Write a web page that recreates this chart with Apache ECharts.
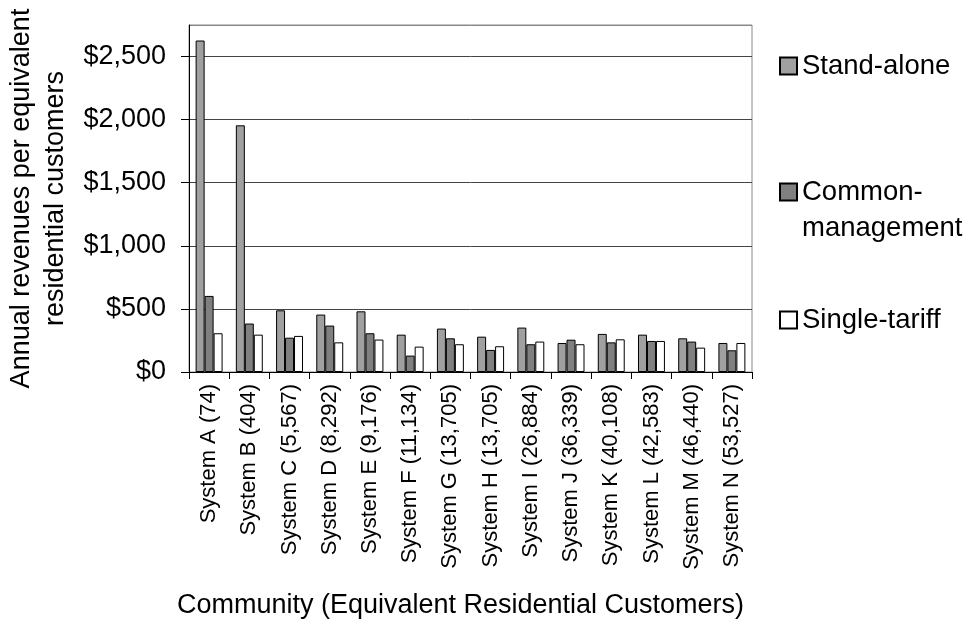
<!DOCTYPE html>
<html>
<head>
<meta charset="utf-8">
<script src="https://cdn.jsdelivr.net/npm/echarts@6/dist/echarts.min.js"></script>
<style>html,body{margin:0;padding:0;background:#fff;}#c{width:968px;height:625px;}</style>
</head>
<body>
<div id="c"></div>
<script>
const categories = ['System A (74)','System B (404)','System C (5,567)','System D (8,292)','System E (9,176)','System F (11,134)','System G (13,705)','System H (13,705)','System I (26,884)','System J (36,339)','System K (40,108)','System L (42,583)','System M (46,440)','System N (53,527)'];
const standAlone = [2627,1955,489,455,481,296,344,280,352,230,302,296,267,230];
const commonManagement = [603,384,272,368,307,130,267,175,220,256,235,246,241,172];
const singleTariff = [307,296,286,235,257,201,220,204,241,220,259,246,193,230];
const yTicks = {min:0, max:2750, interval:500};

const FONT = '"Liberation Sans", Arial, sans-serif';
const chart = echarts.init(document.getElementById('c'));
const barBase = {type:'bar', barGap:'0%', barCategoryGap:'33%', animation:false};
const legendText = {fontFamily:FONT, fontSize:27.5, color:'#000', lineHeight:36};
const legendBase = {orient:'vertical', left:779, padding:0, icon:'rect', itemWidth:17, itemHeight:17, itemGap:0,
  textStyle:legendText, selectedMode:false};
chart.setOption({
  animation:false,
  grid:{left:189, right:216, top:25, bottom:253, outerBoundsMode:'none', containLabel:false,
    show:true, borderColor:'#888', borderWidth:1},
  legend:[
    Object.assign({}, legendBase, {top:48, data:['Stand-alone']}),
    Object.assign({}, legendBase, {top:138, data:['Common-management'],
      formatter:()=> '\nCommon-\nmanagement'}),
    Object.assign({}, legendBase, {top:302, data:['Single-tariff']})
  ],
  xAxis:{type:'category', data:categories,
    axisLine:{lineStyle:{color:'#000', width:1}},
    axisTick:{show:true, length:7, lineStyle:{color:'#000'}},
    axisLabel:{rotate:90, interval:0, margin:12, color:'#000', fontFamily:FONT, fontSize:22},
    name:'Community (Equivalent Residential Customers)', nameLocation:'middle', nameGap:220,
    nameTextStyle:{fontFamily:FONT, fontSize:27, color:'#000', padding:[0,20,0,0]}
  },
  yAxis:{type:'value', min:yTicks.min, max:yTicks.max, interval:yTicks.interval,
    axisLine:{show:true, lineStyle:{color:'#000', width:1}},
    axisTick:{show:true, length:8, lineStyle:{color:'#000'}},
    axisLabel:{margin:23, color:'#000', fontFamily:FONT, fontSize:27, showMaxLabel:false,
      formatter:v=> '$' + v.toLocaleString('en-US')},
    splitLine:{show:true, lineStyle:{color:['#444','#444','#444','#444','#444','#444','#888'], width:1}},
    name:'Annual revenues per equivalent\nresidential customers', nameLocation:'middle', nameRotate:90, nameGap:113,
    nameTextStyle:{fontFamily:FONT, fontSize:27, color:'#000', lineHeight:34}
  },
  series:[
    Object.assign({}, barBase, {name:'Stand-alone', data:standAlone, itemStyle:{color:'#A0A0A0', borderColor:'#000', borderWidth:1}}),
    Object.assign({}, barBase, {name:'Common-management', data:commonManagement, itemStyle:{color:'#808080', borderColor:'#000', borderWidth:1}}),
    Object.assign({}, barBase, {name:'Single-tariff', data:singleTariff, itemStyle:{color:'#FFFFFF', borderColor:'#000', borderWidth:1}})
  ]
});
</script>
</body>
</html>
